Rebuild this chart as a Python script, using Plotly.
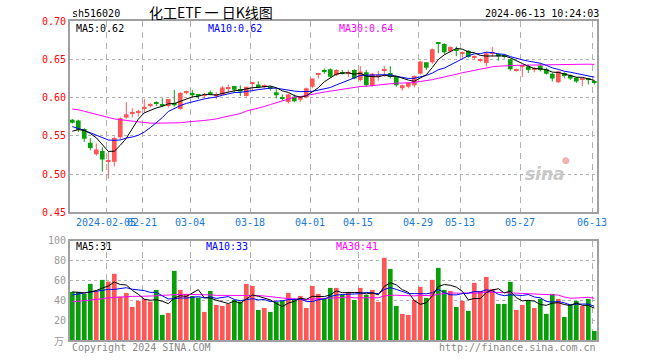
import plotly.graph_objects as go
import pandas as pd

# ---------------- data ----------------
holidays = ["2024-02-09", "2024-02-12", "2024-02-13", "2024-02-14", "2024-02-15",
            "2024-02-16", "2024-04-04", "2024-04-05", "2024-05-01", "2024-05-02",
            "2024-05-03", "2024-06-10"]
dates = [d.strftime("%Y-%m-%d") for d in pd.bdate_range("2024-01-26", "2024-06-13")
         if d.strftime("%Y-%m-%d") not in holidays]

open_ = [0.571, 0.570, 0.559, 0.541, 0.526, 0.530, 0.516, 0.516, 0.548, 0.574,
         0.579, 0.580, 0.585, 0.590, 0.594, 0.591, 0.589, 0.593, 0.585, 0.606,
         0.606, 0.604, 0.602, 0.607, 0.603, 0.604, 0.612, 0.615, 0.611, 0.602,
         0.618, 0.617, 0.614, 0.614, 0.607, 0.600, 0.594, 0.601, 0.597, 0.600,
         0.614, 0.630, 0.635, 0.637, 0.629, 0.633, 0.631, 0.636, 0.623, 0.633,
         0.615, 0.628, 0.635, 0.632, 0.627, 0.612, 0.614, 0.616, 0.631, 0.646,
         0.646, 0.672, 0.670, 0.660, 0.663, 0.657, 0.661, 0.652, 0.648, 0.645,
         0.657, 0.657, 0.654, 0.650, 0.635, 0.640, 0.641, 0.637, 0.642, 0.637,
         0.631, 0.620, 0.632, 0.629, 0.626, 0.623, 0.624, 0.621]
high = [0.572, 0.571, 0.560, 0.547, 0.540, 0.535, 0.529, 0.549, 0.574, 0.594,
        0.586, 0.584, 0.598, 0.593, 0.595, 0.599, 0.598, 0.610, 0.607, 0.609,
        0.610, 0.604, 0.606, 0.609, 0.607, 0.615, 0.617, 0.615, 0.616, 0.614,
        0.620, 0.621, 0.617, 0.615, 0.612, 0.604, 0.605, 0.604, 0.602, 0.613,
        0.625, 0.632, 0.638, 0.638, 0.637, 0.636, 0.636, 0.637, 0.641, 0.636,
        0.632, 0.635, 0.641, 0.641, 0.628, 0.617, 0.620, 0.629, 0.648, 0.646,
        0.664, 0.672, 0.671, 0.667, 0.667, 0.660, 0.662, 0.655, 0.651, 0.660,
        0.666, 0.658, 0.656, 0.651, 0.638, 0.642, 0.643, 0.640, 0.645, 0.639,
        0.632, 0.635, 0.633, 0.630, 0.627, 0.624, 0.625, 0.623]
low = [0.566, 0.555, 0.542, 0.531, 0.524, 0.503, 0.494, 0.510, 0.545, 0.572,
       0.574, 0.575, 0.580, 0.587, 0.589, 0.588, 0.587, 0.588, 0.584, 0.604,
       0.600, 0.598, 0.599, 0.603, 0.598, 0.603, 0.607, 0.606, 0.602, 0.601,
       0.608, 0.612, 0.612, 0.609, 0.599, 0.596, 0.592, 0.594, 0.594, 0.599,
       0.612, 0.625, 0.631, 0.626, 0.628, 0.630, 0.627, 0.624, 0.621, 0.614,
       0.614, 0.622, 0.627, 0.625, 0.614, 0.609, 0.612, 0.613, 0.630, 0.636,
       0.644, 0.658, 0.656, 0.659, 0.654, 0.652, 0.652, 0.649, 0.646, 0.641,
       0.654, 0.648, 0.651, 0.635, 0.634, 0.627, 0.632, 0.633, 0.634, 0.630,
       0.621, 0.619, 0.625, 0.623, 0.619, 0.615, 0.617, 0.617]
close = [0.567, 0.558, 0.546, 0.534, 0.532, 0.519, 0.517, 0.547, 0.573, 0.578,
         0.580, 0.581, 0.588, 0.591, 0.592, 0.590, 0.598, 0.590, 0.606, 0.607,
         0.603, 0.602, 0.603, 0.604, 0.604, 0.613, 0.613, 0.610, 0.608, 0.614,
         0.619, 0.615, 0.615, 0.612, 0.603, 0.599, 0.604, 0.595, 0.601, 0.612,
         0.625, 0.631, 0.634, 0.627, 0.636, 0.632, 0.632, 0.625, 0.634, 0.616,
         0.631, 0.629, 0.636, 0.627, 0.616, 0.616, 0.619, 0.628, 0.647, 0.639,
         0.663, 0.671, 0.659, 0.666, 0.662, 0.658, 0.653, 0.653, 0.649, 0.658,
         0.658, 0.654, 0.653, 0.637, 0.637, 0.641, 0.636, 0.638, 0.636, 0.631,
         0.625, 0.634, 0.628, 0.625, 0.621, 0.624, 0.623, 0.619]
volume = [48.5, 48.5, 46.5, 56.6, 49.5, 60.6, 58.9, 66.7, 43.8, 47.5,
          33.3, 39.4, 41.4, 38.7, 50.5, 25.3, 27.3, 69.7, 50.5, 46.5,
          44.4, 42.8, 28.3, 49.5, 35.4, 34.3, 36.4, 40.4, 38.7, 56.6,
          54.5, 30.3, 32.3, 28.3, 38.4, 39.4, 47.5, 41.4, 44.4, 32.3,
          54.5, 46.5, 41.4, 52.5, 52.5, 45.5, 48.5, 40.4, 52.5, 45.5,
          50.5, 38.4, 82.8, 71.7, 34.3, 26.3, 25.3, 40.4, 53.5, 42.4,
          60.6, 72.7, 50.5, 49.5, 33.3, 39.4, 29.3, 57.6, 49.5, 63.6,
          51.5, 36.4, 36.4, 58.6, 30.3, 35.4, 39.4, 32.3, 41.4, 26.3,
          46.5, 41.4, 23.2, 36.4, 39.4, 34.3, 41.4, 9.1]

# moving-average values before the window starts
ma5_head = [0.556, 0.558, 0.557, 0.553]
ma10_head = [0.562, 0.560, 0.557, 0.554, 0.5505, 0.547, 0.5445, 0.544, 0.5445]
ma30_head = [0.585, 0.584, 0.582, 0.580, 0.577, 0.575, 0.573, 0.572, 0.571, 0.570,
             0.569, 0.568, 0.567, 0.5665, 0.5665, 0.5665, 0.5665, 0.567, 0.567, 0.568,
             0.5685, 0.569, 0.570, 0.571, 0.572, 0.574, 0.5755, 0.577, 0.579]
vma5_head = [48.5, 48.0, 47.5, 48.5]
vma10_head = [45.5, 46.5, 47.5, 48.5, 49.5, 50.5, 51.0, 51.0, 51.5]
vma30_head = [38.5, 39, 39.5, 40, 40.5, 41.5, 42.5, 43, 43.5, 43.5,
              44, 44, 44, 44.5, 44.5, 45, 45.5, 46, 46, 46,
              46, 46, 45.5, 45.5, 45, 45, 45, 45, 45]

tick_dates = ["2024-02-05", "2024-02-21", "2024-03-04", "2024-03-18", "2024-04-01",
              "2024-04-15", "2024-04-29", "2024-05-13", "2024-05-27", "2024-06-13"]
tick_text = ["2024-02-05", "02-21", "03-04", "03-18", "04-01",
             "04-15", "04-29", "05-13", "05-27", "06-13"]
price_ticks = [0.45, 0.50, 0.55, 0.60, 0.65, 0.70]
vol_ticks = [20, 40, 60, 80, 100]


def sma(vals, n, head):
    out = list(head)
    for i in range(len(head), len(vals)):
        out.append(sum(vals[i - n + 1:i + 1]) / n)
    return out


ma5 = sma(close, 5, ma5_head)
ma10 = sma(close, 10, ma10_head)
ma30 = sma(close, 30, ma30_head)
vma5 = sma(volume, 5, vma5_head)
vma10 = sma(volume, 10, vma10_head)
vma30 = sma(volume, 30, vma30_head)

RED = "#ff5656"
GREEN = "#08a008"
MONO = "DejaVu Sans Mono"

n = len(close)
idx = list(range(n))
colors = [RED if c >= o else GREEN for o, c in zip(open_, close)]

fig = go.Figure()

# wicks
for col in (RED, GREEN):
    wx, wy = [], []
    for i in idx:
        if colors[i] == col:
            wx += [i, i, None]
            wy += [low[i], high[i], None]
    fig.add_trace(go.Scatter(x=wx, y=wy, mode="lines", line=dict(color=col, width=1),
                             xaxis="x", yaxis="y", hoverinfo="skip"))

# bodies
body_base = [min(o, c) for o, c in zip(open_, close)]
body_h = [max(abs(c - o), 0.0013) for o, c in zip(open_, close)]
fig.add_trace(go.Bar(x=idx, y=body_h, base=body_base, width=0.78,
                     marker=dict(color=colors, line=dict(width=0)),
                     xaxis="x", yaxis="y"))

# price MAs
for vals, col in ((ma30, "#ff00ff"), (ma10, "#0000ff"), (ma5, "#000000")):
    fig.add_trace(go.Scatter(x=idx, y=vals, mode="lines", line=dict(color=col, width=1),
                             xaxis="x", yaxis="y"))

# volume
fig.add_trace(go.Bar(x=idx, y=volume, width=0.78,
                     marker=dict(color=colors, line=dict(width=0)),
                     xaxis="x2", yaxis="y2"))
for vals, col in ((vma30, "#ff00ff"), (vma10, "#0000ff"), (vma5, "#000000")):
    fig.add_trace(go.Scatter(x=idx, y=vals, mode="lines", line=dict(color=col, width=1),
                             xaxis="x2", yaxis="y2"))

tick_pos = [dates.index(d) - 0.38 for d in tick_dates]
xr = [-0.383, 87.45]
frame = dict(showline=True, mirror=True, linecolor="#a0a0a0", linewidth=2, zeroline=False)

fig.update_layout(
    width=660, height=360,
    margin=dict(l=70, r=63, t=21, b=20),
    paper_bgcolor="white", plot_bgcolor="white",
    showlegend=False, barmode="overlay",
    xaxis=dict(domain=[0, 1], range=xr, anchor="y", tickmode="array",
               tickvals=tick_pos, ticktext=tick_text, tickangle=0,
               tickfont=dict(family=MONO, size=10, color="#1a7ad4"),
               showgrid=True, gridcolor="#b0b0b0", griddash="6px,5px", gridwidth=1,
               ticks="", **frame),
    xaxis2=dict(domain=[0, 1], range=xr, anchor="y2", matches="x", tickmode="array",
                tickvals=tick_pos, showticklabels=False,
                showgrid=True, gridcolor="#b0b0b0", griddash="6px,5px", gridwidth=1,
                ticks="", **frame),
    yaxis=dict(domain=[0.4003, 1], range=[0.45, 0.70], tickmode="array",
               tickvals=price_ticks, ticktext=["%.2f" % v for v in price_ticks],
               tickfont=dict(family=MONO, size=10, color="#ff0000"),
               showgrid=True, gridcolor="#b0b0b0", griddash="dot", gridwidth=1,
               ticks="", anchor="x", **frame),
    yaxis2=dict(domain=[0, 0.311], range=[0, 100], tickmode="array",
                tickvals=vol_ticks, ticktext=[str(v) for v in vol_ticks],
                tickfont=dict(family=MONO, size=10, color="#999999"),
                showgrid=True, gridcolor="#b0b0b0", griddash="dot", gridwidth=1,
                ticks="", anchor="x2", **frame),
)


def ann(text, x, y, color="#000000", size=10, xanchor="left", family=MONO):
    fig.add_annotation(text=text, x=x, y=y, xref="paper", yref="paper",
                       xanchor=xanchor, yanchor="middle", showarrow=False,
                       font=dict(family=family, size=size, color=color))


def py(Y):
    return (340 - Y) / 319.0


def px(X):
    return (X - 70) / 527.0


ann("sh516020", px(70), py(13))
ann("化工ETF 一 日K线图", px(211), py(12), size=14, xanchor="center",
    family="Noto Sans CJK SC")
ann("2024-06-13 10:24:03", px(601), py(13), xanchor="right")
ann("MA5:0.62", px(74), py(28))
ann("MA10:0.62", px(206), py(28), color="#0000ff")
ann("MA30:0.64", px(337), py(28), color="#ff00ff")
ann("MA5:31", px(74), py(246))
ann("MA10:33", px(204), py(246), color="#0000ff")
ann("MA30:41", px(334), py(246), color="#ff00ff")
ann("万", px(66), py(340), color="#999999", xanchor="right", family="Noto Sans CJK SC")
ann("Copyright 2024 SINA.COM", px(70), py(347), color="#888888")
ann("http://finance.sina.com.cn", px(598), py(347), color="#888888", xanchor="right")
fig.add_annotation(text="<b><i>sina</i></b>", x=px(567), y=py(174), xref="paper", yref="paper",
                   showarrow=False, font=dict(family="DejaVu Sans", size=17, color="#c8c8c8"))
fig.add_annotation(text="●", x=px(572), y=py(160), xref="paper", yref="paper",
                   showarrow=False, font=dict(family="DejaVu Sans", size=9, color="#f2b0b0"))

fig.write_html("out.html", config={"displayModeBar": False},
               post_script="document.body.style.margin='0';document.body.style.padding='0';")
